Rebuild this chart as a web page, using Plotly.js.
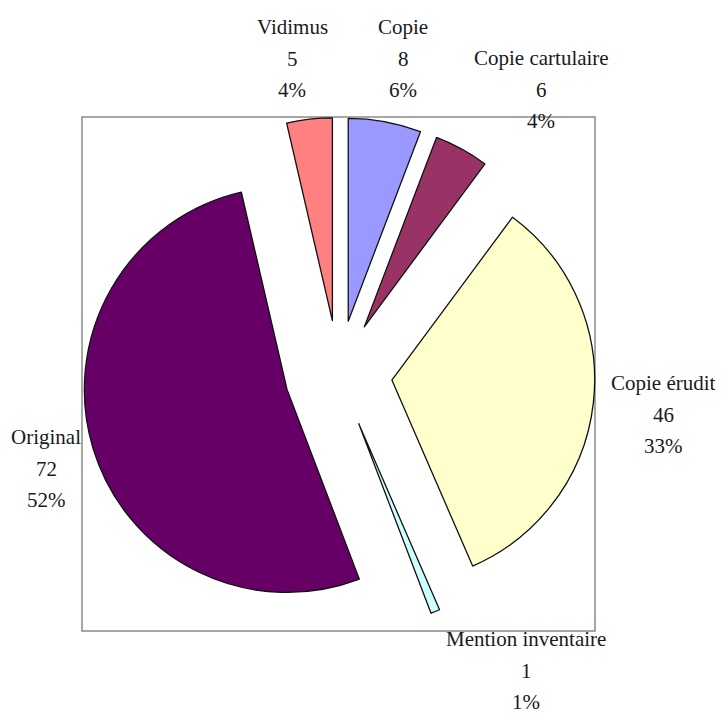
<!DOCTYPE html>
<html>
<head>
<meta charset="utf-8">
<script src="https://cdn.plot.ly/plotly-3.0.1.min.js"></script>
<style>html,body{margin:0;padding:0;background:#fff;}</style>
</head>
<body>
<div id="chart" style="width:721px;height:714px;"></div>
<script>
// Data
const categories = ["Copie", "Copie cartulaire", "Copie érudit", "Mention inventaire", "Original", "Vidimus"];
const counts = [8, 6, 46, 1, 72, 5];
const sliceColors = ["#9999FF", "#993366", "#FFFFCC", "#CCFFFF", "#660066", "#FF8080"];

// Label placement (pixel centres of the first line) — layout only
const labelX = [403, 541, 663, 526, 46, 292];
const labelY = [27, 58, 383, 639, 437, 27];
const lineGap = 31.5;

const W = 721, H = 714;
const box = {x0: 82, x1: 595, y0: 117, y1: 631};

const total = counts.reduce((a, b) => a + b, 0);
const annotations = [];
categories.forEach((c, i) => {
  const pct = Math.round(counts[i] / total * 100) + "%";
  [c, String(counts[i]), pct].forEach((t, k) => {
    annotations.push({
      xref: "paper", yref: "paper",
      x: labelX[i] / W, y: 1 - (labelY[i] + k * lineGap) / H,
      xanchor: "center", yanchor: "middle",
      text: t, showarrow: false,
      font: {family: "Liberation Serif", size: 21, color: "#1a1a1a"}
    });
  });
});

const trace = {
  type: "pie",
  labels: categories,
  values: counts,
  sort: false,
  direction: "clockwise",
  rotation: 0,
  pull: categories.map(() => 0.265),
  marker: {colors: sliceColors, line: {color: "#111", width: 1.3}},
  textinfo: "none",
  hoverinfo: "label+value+percent",
  domain: {x: [box.x0 / W, box.x1 / W], y: [1 - box.y1 / H, 1 - box.y0 / H]}
};

const layout = {
  width: W, height: H,
  margin: {l: 0, r: 0, t: 0, b: 0},
  paper_bgcolor: "#fff",
  showlegend: false,
  font: {family: "Liberation Serif"},
  annotations: annotations,
  shapes: [{
    type: "rect", xref: "paper", yref: "paper",
    x0: box.x0 / W, x1: box.x1 / W, y0: 1 - box.y1 / H, y1: 1 - box.y0 / H,
    line: {color: "#8a8a8a", width: 1.5}, layer: "below"
  }]
};

Plotly.newPlot("chart", [trace], layout, {displayModeBar: false, staticPlot: true});
</script>
</body>
</html>
